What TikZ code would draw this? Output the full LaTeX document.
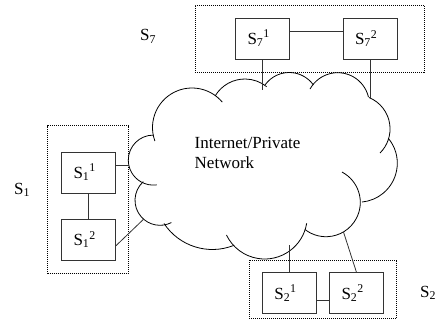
\documentclass[tikz,border=0pt]{standalone}
\usepackage{fontspec}
\setmainfont{Liberation Serif}
\usetikzlibrary{calc}
\begin{document}
\begin{tikzpicture}[x=1pt,y=1pt,yscale=-1,
  site/.style={draw=black!80,line width=0.8pt,minimum height=41pt,
    text width=30pt,inner xsep=12pt,inner ysep=0pt,align=left,
    font=\fontsize{17}{20}\selectfont},
  grp/.style={draw,line width=0.6pt,dash pattern=on 1pt off 1pt,inner sep=0pt},
  lbl/.style={inner sep=0pt,anchor=base west,font=\fontsize{17}{20}\selectfont},
  wire/.style={line width=0.8pt,draw=black!80},
  puff/.style={line width=0.8pt}]
\useasboundingbox (0,0) rectangle (438,331);

% dotted group frames
\node[grp,minimum width=229pt,minimum height=67pt] (g7) at (309.5,38.5) {};
\node[grp,minimum width=80.6pt,minimum height=147.6pt] (g1) at (88,199.5) {};
\node[grp,minimum width=147.7pt,minimum height=58.3pt] (g2) at (322.85,289.15) {};

% member sites
\node[site] (s71) at (262.5,38.5) {S\textsubscript{7}\textsuperscript{1}};
\node[site] (s72) at (370,38.5) {S\textsubscript{7}\textsuperscript{2}};
\node[site] (s11) at (88.5,172.5) {S\textsubscript{1}\textsuperscript{1}};
\node[site] (s12) at (88.5,239.5) {S\textsubscript{1}\textsuperscript{2}};
\node[site] (s21) at (289.3,293.3) {S\textsubscript{2}\textsuperscript{1}};
\node[site] (s22) at (356.5,293.3) {S\textsubscript{2}\textsuperscript{2}};

% group labels
\node[lbl] (l7) at (140,41) {S\textsubscript{7}};
\node[lbl] (l1) at (14,194) {S\textsubscript{1}};
\node[lbl] (l2) at (420,297) {S\textsubscript{2}};

% cloud outline: circular arcs (centre x / centre y / radius / start / end)
\foreach \cx/\cy/\r/\a/\b in {
  192/127.5/39.5/160/320,
  244.9/113.6/34.6/211/309,
  289.2/102.2/29.7/215.4/324.5,
  337.7/104.3/31.6/208.9/346.7,
  356.1/128.9/33.95/292.3/405.2,
  358.3/163.2/39/320.3/444.6,
  326/202.4/34.3/297.8/488,
  264.7/216.5/42.5/9.2/154.2,
  212.4/191.5/58/146.5/68.5,
  160/200.3/25/228.1/63,
  153.3/160.1/25/270/82.2}
  \draw[puff] ([shift={(\cx,\cy)}]\a:\r) arc[start angle=\a,end angle=\b,radius=\r];

\node[lbl] (net1) at (194.5,148) {Internet/Private};
\node[lbl] (net2) at (194.5,168.5) {Network};

% attachment points on the cloud
\coordinate (c71) at (262.5,90);
\coordinate (c72) at (370,98);
\coordinate (c11) at (128.5,165);
\coordinate (c12) at (143.3,219.5);
\coordinate (c21) at (289.3,245);
\coordinate (c22) at (343.5,232);

% links inside groups
\draw[wire] ($(s71.north east)!0.33!(s71.south east)$) -- ($(s72.north west)!0.33!(s72.south west)$);
\draw[wire] (s11.south) -- (s12.north);
\draw[wire] ($(s21.north east)!0.67!(s21.south east)$) -- ($(s22.north west)!0.67!(s22.south west)$);

% links to the network
\draw[wire] (s71.south) -- (c71);
\draw[wire] (s72.south) -- (c72);
\draw[wire] (s11.east |- c11) -- (c11);
\draw[wire] ($(s12.north east)!0.65!(s12.south east)$) -- (c12);
\draw[wire] (s21.north) -- (c21);
\draw[wire] (s22.north) -- (c22);
\end{tikzpicture}
\end{document}
